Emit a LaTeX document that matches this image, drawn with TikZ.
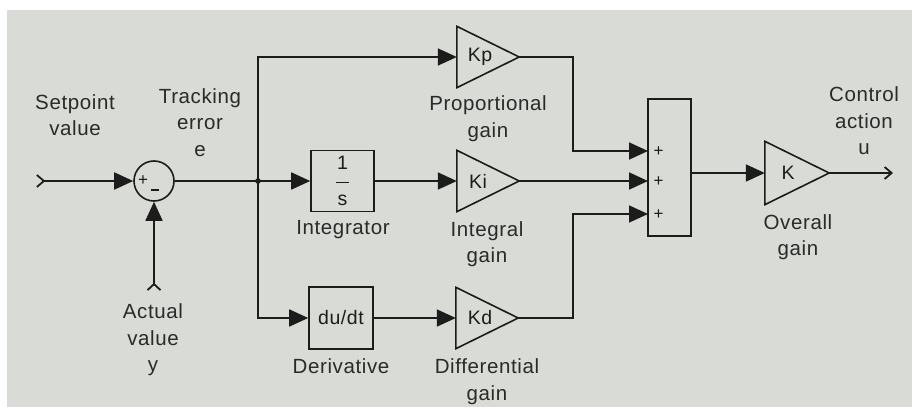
\documentclass[tikz,border=0pt]{standalone}
\usepackage{fontspec}
\setmainfont{Liberation Sans}
\newfontfamily\lblfont{Liberation Sans}[LetterSpace=3]
\usetikzlibrary{arrows.meta}
\definecolor{bgc}{RGB}{217,219,214}
\definecolor{ink}{RGB}{28,28,28}
\definecolor{txt}{RGB}{42,42,42}
\tikzset{
  lbl/.style={font=\lblfont\fontsize{20.5}{26.5}\selectfont, text=txt, align=center, inner sep=0pt},
  inlbl/.style={font=\lblfont\fontsize{19.5}{22}\selectfont, text=ink, inner sep=0pt},
  sgn/.style={font=\fontsize{17}{17}\selectfont, inner sep=0pt, text=ink},
  wire/.style={draw=ink, line width=1.8pt},
  arr/.style={wire, -{Triangle[length=19pt,width=17pt]}},
  blockbox/.style={draw=ink, line width=1.6pt, inner sep=0pt},
  gainbox/.style={inner sep=0pt, minimum width=62pt, minimum height=61pt},
  gaintri/.style={draw=ink, line width=1.6pt, line join=miter},
}
\begin{document}
\begin{tikzpicture}[x=1pt,y=-1pt]
\useasboundingbox (0,0) rectangle (912,409);
\fill[white] (0,0) rectangle (912,409);
\fill[bgc] (7,10) rectangle (912,407);

% sum junction
\node[circle, draw=ink, line width=1.6pt, minimum size=40pt, inner sep=0pt] (sum) at (154,181) {};
\node[sgn] (plus) at (143,181) {+};
\node[sgn] (minus) at (155,190) {\rule{8pt}{1.8pt}};

\coordinate (in) at (36,181);
\coordinate (fb) at (154,291);
\coordinate (br) at (258,181);

% blocks
\node[blockbox, minimum width=63pt, minimum height=61pt] (int) at (342.5,181) {};
\node[inlbl] (one) at (342.5,163) {1};
\node[inlbl] (ess) at (342.5,200) {s};
\draw[ink, line width=1.5pt] (336,182.5) -- (349,182.5);

\node[blockbox, minimum width=64pt, minimum height=62pt, font=\lblfont\fontsize{19.5}{22}\selectfont, text=ink] (der) at (341,318) {du/dt};

% gains
\node[gainbox] (kp) at (488,57) {};
\draw[gaintri] (kp.north west) -- (kp.east) -- (kp.south west) -- cycle;
\node[inlbl] (kpt) at (480,57) {Kp};

\node[gainbox] (ki) at (488,181) {};
\draw[gaintri] (ki.north west) -- (ki.east) -- (ki.south west) -- cycle;
\node[inlbl] (kit) at (478,181) {Ki};

\node[gainbox] (kd) at (487,318) {};
\draw[gaintri] (kd.north west) -- (kd.east) -- (kd.south west) -- cycle;
\node[inlbl] (kdt) at (480,318) {Kd};

% summation block
\node[blockbox, minimum width=43pt, minimum height=137pt] (sumb) at (669.5,167.5) {};
\coordinate (s1) at (648,151);
\coordinate (s2) at (648,181);
\coordinate (s3) at (648,214);
\node[sgn] (p1) at (658.5,152) {+};
\node[sgn] (p2) at (658.5,182) {+};
\node[sgn] (p3) at (658.5,215) {+};

\node[gainbox, minimum width=64pt, minimum height=63pt] (kk) at (797,173) {};
\draw[gaintri] (kk.north west) -- (kk.east) -- (kk.south west) -- cycle;
\node[inlbl] (kkt) at (788,173) {K};
\coordinate (out) at (893,173);

% connectors
\draw[wire, {Straight Barb[reversed,length=7pt,width=12pt]}-{Triangle[length=19pt,width=17pt]}] (in) -- (sum.west);
\draw[wire, {Straight Barb[reversed,length=6pt,width=13pt]}-{Triangle[length=19pt,width=17pt]}] (fb) -- (sum.south);
\draw[wire] (sum.east) -- (br);
\fill[ink] (br) circle (2.8pt);
\draw[arr] (br) -- (int.west);
\draw[arr] (br) |- (kp.west);
\draw[arr] (br) |- (der.west);
\draw[arr] (int.east) -- (ki.west);
\draw[arr] (der.east) -- (kd.west);
\draw[arr] (kp.east) -| (573,100) |- (s1);
\draw[arr] (ki.east) -- (s2);
\draw[arr] (kd.east) -| (573,260) |- (s3);
\draw[arr] (sumb.east |- kk.west) -- (kk.west);
\draw[wire, -{Straight Barb[length=7pt,width=12pt]}] (kk.east) -- (out);

% labels
\node[lbl] (lsp) at (75,115) {Setpoint\\value};
\node[lbl] (lte) at (200,122.5) {Tracking\\error\\e};
\node[lbl] (lpg) at (488,118.5) {Proportional\\gain};
\node[lbl] (lin) at (343,230) {Integrator};
\node[lbl] (lig) at (487,244) {Integral\\gain};
\node[lbl] (lde) at (341,366) {Derivative};
\node[lbl] (ldg) at (487,381.5) {Differential\\gain};
\node[lbl] (lav) at (153,340) {Actual\\value\\y};
\node[lbl] (lca) at (864,121) {Control\\action\\u};
\node[lbl] (log) at (798,237) {Overall\\gain};
\end{tikzpicture}
\end{document}
